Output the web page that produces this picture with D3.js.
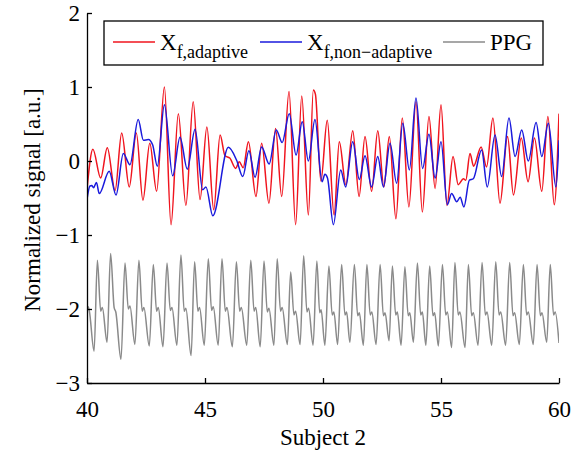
<!DOCTYPE html>
<html>
<head>
<meta charset="utf-8">
<script src="https://cdn.jsdelivr.net/npm/d3@7"></script>
<style>
  body { margin: 0; background: #fff; }
  svg { display: block; }
  text { font-family: "Liberation Serif", "DejaVu Serif", serif; }
</style>
</head>
<body>
<div id="chart"></div>
<script>
// values: [time, normalized signal]
const redSignal = [
  [40.00,-0.38],[40.25,0.16],[40.58,-0.23],[40.86,0.18],[41.19,-0.40],[41.47,0.38],[41.79,-0.35],
  [42.09,0.38],[42.37,-0.53],[42.66,0.24],[42.95,-0.41],[43.28,1.00],[43.56,-0.86],[43.87,0.64],
  [44.19,-0.60],[44.50,0.80],[44.79,-0.52],[45.08,0.46],[45.37,-0.66],[45.64,0.35],[45.85,0.07],
  [46.05,0.04],[46.30,-0.10],[46.45,-0.01],[46.62,-0.09],[46.84,0.26],[47.16,-0.48],[47.40,0.24],
  [47.71,-0.57],[47.99,0.44],[48.25,-0.48],[48.56,0.94],[48.84,-0.86],[49.10,0.88],[49.38,-0.73],
  [49.59,0.96],[49.68,0.90],[49.91,-0.27],[50.18,0.55],[50.47,-0.73],[50.69,0.26],[50.97,-0.32],
  [51.26,0.41],[51.53,-0.48],[51.78,0.33],[52.06,-0.41],[52.32,0.41],[52.58,-0.35],[52.81,0.33],
  [53.09,-0.78],[53.36,0.58],[53.64,-0.62],[53.94,0.80],[54.21,-0.69],[54.49,0.60],[54.75,-0.37],
  [55.00,0.76],[55.25,-0.60],[55.51,0.06],[55.73,-0.32],[55.95,-0.24],[56.05,-0.26],[56.23,0.10],
  [56.38,-0.07],[56.70,0.19],[56.93,-0.08],[57.20,0.58],[57.50,-0.57],[57.82,0.33],[58.07,-0.46],
  [58.40,0.31],[58.69,-0.28],[58.96,0.31],[59.27,-0.41],[59.53,0.60],[59.80,-0.59],[60.00,0.64]
];

const blueSignal = [
  [40.00,-0.52],[40.12,-0.34],[40.20,-0.33],[40.28,-0.36],[40.40,-0.29],[40.52,-0.44],[40.94,-0.14],
  [41.23,-0.46],[41.54,0.10],[41.82,-0.05],[42.17,0.56],[42.39,0.28],[42.60,0.29],[42.78,0.22],
  [42.98,-0.07],[43.28,0.76],[43.63,-0.20],[43.94,0.32],[44.25,-0.11],[44.58,0.43],[44.90,-0.39],
  [45.04,-0.35],[45.33,-0.74],[45.99,0.185],[46.34,0.01],[46.60,-0.21],[46.86,0.14],[47.12,-0.22],
  [47.40,0.19],[47.72,-0.04],[48.02,0.42],[48.27,0.25],[48.57,0.64],[48.86,0.08],[49.12,0.53],
  [49.38,0.00],[49.66,0.56],[49.96,-0.28],[50.08,-0.18],[50.19,-0.23],[50.44,-0.86],[50.75,-0.12],
  [50.96,-0.35],[51.26,0.26],[51.54,-0.25],[51.78,0.07],[52.06,-0.35],[52.32,0.06],[52.56,-0.35],
  [52.84,0.24],[53.12,-0.30],[53.38,0.51],[53.66,-0.12],[53.94,0.85],[54.22,-0.10],[54.49,0.36],
  [54.75,-0.23],[55.00,0.26],[55.27,-0.59],[55.45,-0.44],[55.67,-0.55],[55.81,-0.49],[55.97,-0.62],
  [56.20,-0.26],[56.37,-0.24],[56.72,0.15],[56.96,-0.35],[57.29,0.35],[57.57,-0.21],[57.88,0.58],
  [58.14,0.06],[58.42,0.42],[58.70,0.00],[59.03,0.52],[59.27,0.06],[59.55,0.51],[59.87,-0.35],
  [60.00,0.28]
];

const ppgSignal = [
  [40.00,-2.00],[40.05,-1.97],[40.10,-2.03],
  [40.30,-2.57],[40.44,-1.34],[40.58,-2.03],[40.65,-1.98],
  [40.85,-2.45],[41.00,-1.25],[41.15,-1.98],[41.22,-2.04],
  [41.44,-2.68],[41.61,-1.38],[41.75,-2.00],[41.82,-1.96],
  [42.03,-2.48],[42.20,-1.34],[42.34,-2.03],[42.41,-1.98],
  [42.64,-2.50],[42.81,-1.40],[42.95,-2.03],[43.02,-1.98],
  [43.22,-2.51],[43.39,-1.38],[43.53,-2.02],[43.60,-1.98],
  [43.81,-2.49],[43.98,-1.27],[44.12,-2.03],[44.19,-1.99],
  [44.41,-2.63],[44.56,-1.36],[44.70,-2.03],[44.77,-1.98],
  [44.97,-2.49],[45.14,-1.32],[45.28,-2.02],[45.35,-1.97],
  [45.56,-2.49],[45.72,-1.32],[45.86,-2.03],[45.93,-1.98],
  [46.16,-2.51],[46.33,-1.36],[46.47,-2.03],[46.54,-1.98],
  [46.77,-2.49],[46.94,-1.34],[47.08,-2.03],[47.15,-1.98],
  [47.34,-2.51],[47.50,-1.35],[47.64,-2.04],[47.71,-1.99],
  [47.92,-2.49],[48.06,-1.32],[48.20,-2.03],[48.27,-1.98],
  [48.49,-2.48],[48.63,-1.50],[48.77,-2.08],[48.84,-2.03],
  [49.03,-2.48],[49.18,-1.28],[49.32,-2.04],[49.39,-1.99],
  [49.58,-2.49],[49.74,-1.35],[49.86,-2.05],[49.92,-2.01],
  [50.08,-2.49],[50.25,-1.42],[50.39,-2.08],[50.46,-2.04],
  [50.62,-2.48],[50.79,-1.40],[50.93,-2.08],[51.00,-2.04],
  [51.14,-2.45],[51.33,-1.40],[51.47,-2.09],[51.54,-2.05],
  [51.71,-2.49],[51.86,-1.40],[52.00,-2.08],[52.07,-2.04],
  [52.25,-2.48],[52.42,-1.40],[52.56,-2.09],[52.63,-2.05],
  [52.80,-2.43],[52.94,-1.42],[53.08,-2.08],[53.15,-2.04],
  [53.31,-2.49],[53.47,-1.43],[53.61,-2.09],[53.68,-2.05],
  [53.83,-2.45],[54.00,-1.38],[54.14,-2.08],[54.21,-2.04],
  [54.36,-2.49],[54.52,-1.42],[54.66,-2.09],[54.73,-2.05],
  [54.89,-2.50],[55.06,-1.40],[55.20,-2.08],[55.27,-2.04],
  [55.45,-2.52],[55.59,-1.37],[55.73,-2.08],[55.80,-2.04],
  [56.02,-2.52],[56.16,-1.40],[56.30,-2.09],[56.37,-2.05],
  [56.57,-2.49],[56.74,-1.37],[56.88,-2.08],[56.95,-2.04],
  [57.15,-2.49],[57.32,-1.36],[57.46,-2.08],[57.53,-2.04],
  [57.74,-2.49],[57.91,-1.37],[58.05,-2.09],[58.12,-2.05],
  [58.32,-2.48],[58.49,-1.40],[58.63,-2.08],[58.70,-2.04],
  [58.91,-2.48],[59.07,-1.40],[59.21,-2.09],[59.28,-2.05],
  [59.48,-2.45],[59.63,-1.40],[59.77,-2.08],[59.84,-2.04],
  [60.00,-2.46]
];

const xTicks = [40, 45, 50, 55, 60];
const yTicks = [-3, -2, -1, 0, 1, 2];
const seriesNames = ["X", "X", "PPG"];
const seriesSubs = ["f,adaptive", "f,non\u2212adaptive", ""];
const seriesColors = ["#f0141e", "#1a1adc", "#8a8a8a"];

const W = 572, H = 456;
const mLeft = 87, mRight = 559, mTop = 13, mBottom = 383;
const font = "Liberation Serif, DejaVu Serif, serif";

const svg = d3.select("#chart").append("svg")
  .attr("width", W)
  .attr("height", H)

const x = d3.scaleLinear().domain([40, 60]).range([mLeft, mRight]);
const y = d3.scaleLinear().domain([-3, 2]).range([mBottom, mTop]);

svg.append("clipPath").attr("id", "clip")
  .append("rect")
  .attr("x", mLeft).attr("y", mTop)
  .attr("width", mRight - mLeft).attr("height", mBottom - mTop)

const line = d3.line()
  .x(d => x(d[0]))
  .y(d => y(d[1]))
  .curve(d3.curveMonotoneX)

const plot = svg.append("g").attr("clip-path", "url(#clip)");
[redSignal, blueSignal, ppgSignal].forEach((s, i) => {
  plot.append("path")
    .datum(s)
    .attr("d", line)
    .attr("fill", "none")
    .attr("stroke", seriesColors[i])
    .attr("stroke-width", 1.5)
    .attr("stroke-linejoin", "round")
})

// axes, ticks pointing inward like matlab
const fmt = d3.format("d");
const xAxis = svg.append("g")
  .attr("transform", `translate(0,${mBottom})`)
  .call(d3.axisBottom(x).tickValues(xTicks).tickFormat(fmt).tickSizeInner(-5).tickSizeOuter(0).tickPadding(18))
const yAxis = svg.append("g")
  .attr("transform", `translate(${mLeft},0)`)
  .call(d3.axisLeft(y).tickValues(yTicks).tickFormat(fmt).tickSizeInner(-5).tickSizeOuter(0).tickPadding(7))

;[xAxis, yAxis].forEach(a => {
  a.attr("font-family", font).attr("font-size", 23)
  a.select(".domain").attr("stroke", "#000").attr("stroke-width", 1.3)
  a.selectAll(".tick line").attr("stroke", "#000").attr("stroke-width", 1.3)
  a.selectAll(".tick text").attr("fill", "#000")
})

svg.append("text")
  .attr("x", (mLeft + mRight) / 2)
  .attr("y", 445)
  .attr("text-anchor", "middle")
  .attr("font-size", 23)
  .text("Subject 2")

svg.append("text")
  .attr("transform", "translate(40,200) rotate(-90)")
  .attr("text-anchor", "middle")
  .attr("font-size", 23)
  .text("Normalized signal [a.u.]")

// legend
const legend = svg.append("g");
legend.append("rect")
  .attr("x", 104).attr("y", 21)
  .attr("width", 439).attr("height", 44)
  .attr("fill", "#fff")
  .attr("stroke", "#000")
  .attr("stroke-width", 1.3)

const itemX = [113, 260, 443];
seriesNames.forEach((name, i) => {
  legend.append("line")
    .attr("x1", itemX[i]).attr("x2", itemX[i] + 42)
    .attr("y1", 42).attr("y2", 42)
    .attr("stroke", seriesColors[i])
    .attr("stroke-width", 1.5)
  const t = legend.append("text")
    .attr("x", itemX[i] + 47)
    .attr("y", 50)
    .attr("font-size", 23)
  t.append("tspan").text(name)
  if (seriesSubs[i]) {
    t.append("tspan")
      .attr("font-size", 18)
      .attr("dy", 8)
      .text(seriesSubs[i])
  }
})
</script>
</body>
</html>
